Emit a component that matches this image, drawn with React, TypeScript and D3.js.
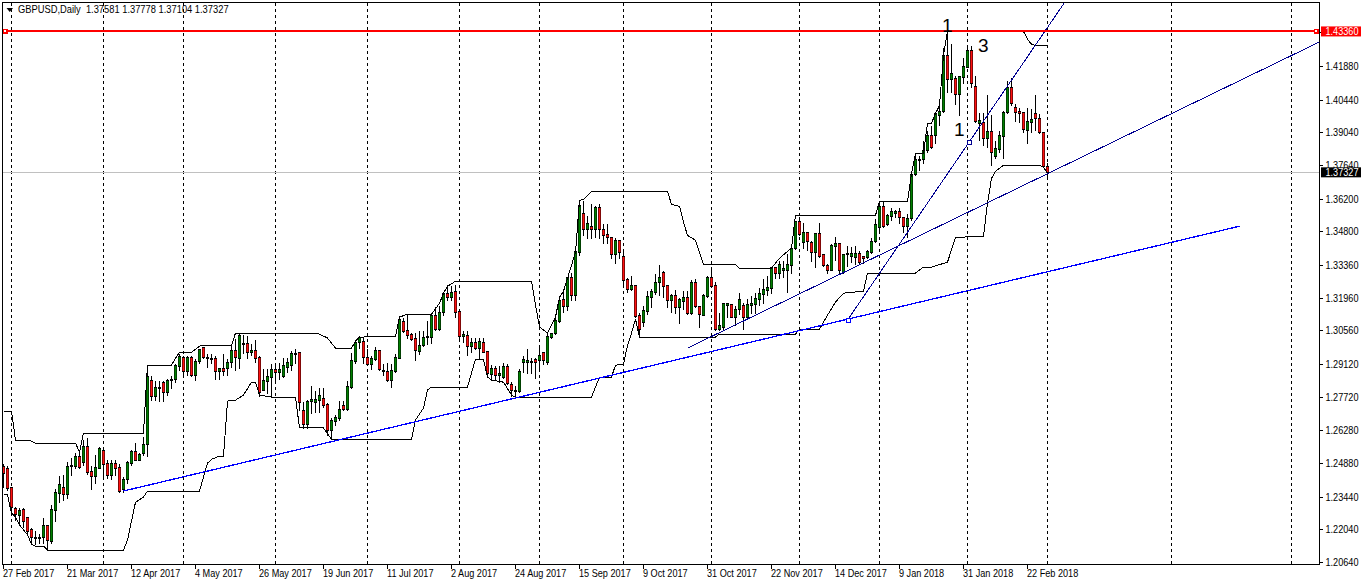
import React, { useEffect, useRef } from "react";
import * as d3 from "d3";

const opens = [
  1.2474,1.2466,1.2385,1.2295,1.2265,1.2290,1.2256,1.2205,1.2167,1.2167,
  1.2171,1.2223,1.2154,1.2286,1.2359,1.2385,1.2355,1.2474,1.2474,1.2517,
  1.2491,1.2560,1.2454,1.2432,1.2466,1.2543,1.2487,1.2437,1.2487,1.2470,
  1.2376,1.2419,1.2487,1.2539,1.2500,1.2530,1.2569,1.2843,1.2774,1.2809,
  1.2834,1.2791,1.2843,1.2847,1.2903,1.2941,1.2881,1.2941,1.2865,1.2924,
  1.2984,1.2937,1.2932,1.2937,1.2881,1.2894,1.2894,1.2919,1.2971,1.2937,
  1.2997,1.3001,1.2962,1.2971,1.2941,1.2800,1.2839,1.2856,1.2890,1.2877,
  1.2860,1.2898,1.2907,1.2954,1.2962,1.2714,1.2655,1.2753,1.2748,1.2757,
  1.2766,1.2740,1.2629,1.2668,1.2680,1.2736,1.2718,1.2813,1.2924,1.3005,
  1.3010,1.2941,1.2911,1.2932,1.2971,1.2881,1.2881,1.2843,1.2881,1.2937,
  1.3096,1.3057,1.3040,1.3023,1.2967,1.2992,1.3027,1.3027,1.3121,1.3061,
  1.3134,1.3215,1.3198,1.3224,1.3138,1.3031,1.3036,1.2988,1.3005,1.2980,
  1.3005,1.2967,1.2869,1.2894,1.2865,1.2856,1.2903,1.2826,1.2796,1.2796,
  1.2919,1.2919,1.2919,1.2932,1.2928,1.2962,1.2919,1.3027,1.3044,1.3096,
  1.3189,1.3160,1.3284,1.3206,1.3390,1.3557,1.3489,1.3502,1.3489,1.3583,
  1.3489,1.3468,1.3454,1.3382,1.3442,1.3373,1.3275,1.3232,1.3249,1.3121,
  1.3091,1.3138,1.3198,1.3219,1.3262,1.3305,1.3249,1.3185,1.3206,1.3155,
  1.3181,1.3198,1.3130,1.3262,1.3160,1.3121,1.3202,1.3284,1.3249,1.3061,
  1.3070,1.3164,1.3168,1.3113,1.3146,1.3164,1.3113,1.3164,1.3168,1.3189,
  1.3211,1.3228,1.3237,1.3327,1.3301,1.3314,1.3314,1.3335,1.3408,1.3524,
  1.3433,1.3476,1.3433,1.3390,1.3472,1.3382,1.3335,1.3314,1.3416,1.3429,
  1.3305,1.3382,1.3373,1.3369,1.3386,1.3373,1.3369,1.3390,1.3438,1.3498,
  1.3587,1.3511,1.3545,1.3557,1.3566,1.3540,1.3502,1.3536,1.3725,1.3784,
  1.3789,1.3827,1.3891,1.3891,1.3977,1.3994,1.4234,1.4131,1.4136,1.4067,
  1.4140,1.4183,1.4255,1.4101,1.3943,1.3947,1.3879,1.3909,1.3801,1.3831,
  1.3887,1.3989,1.4097,1.4011,1.3994,1.3989,1.3913,1.3947,1.3985,1.3964,
  1.3904,1.37581,
];
const highs = [
  1.2487,1.2479,1.2385,1.2303,1.2299,1.2299,1.2256,1.2214,1.2201,1.2188,
  1.2256,1.2227,1.2312,1.2381,1.2437,1.2441,1.2496,1.2513,1.2534,1.2530,
  1.2590,1.2599,1.2479,1.2526,1.2560,1.2552,1.2504,1.2504,1.2504,1.2487,
  1.2432,1.2500,1.2547,1.2577,1.2534,1.2603,1.2877,1.2865,1.2843,1.2843,
  1.2843,1.2851,1.2865,1.2915,1.2958,1.2950,1.2950,1.2950,1.2937,1.2980,
  1.2988,1.2958,1.2958,1.2950,1.2898,1.2958,1.2937,1.2992,1.3023,1.3044,
  1.3040,1.3036,1.3001,1.3018,1.2950,1.2894,1.2894,1.2915,1.2919,1.2919,
  1.2941,1.2941,1.2971,1.2980,1.2962,1.2753,1.2761,1.2822,1.2800,1.2813,
  1.2813,1.2748,1.2684,1.2697,1.2757,1.2757,1.2843,1.2962,1.3018,1.3036,
  1.3027,1.2980,1.2950,1.2988,1.2971,1.2915,1.2919,1.2915,1.2958,1.3113,
  1.3113,1.3125,1.3049,1.3049,1.3057,1.3057,1.3100,1.3125,1.3160,1.3164,
  1.3219,1.3254,1.3249,1.3254,1.3142,1.3057,1.3057,1.3027,1.3027,1.3027,
  1.3027,1.2971,1.2911,1.2907,1.2907,1.2919,1.2915,1.2839,1.2822,1.2894,
  1.2950,1.2980,1.2941,1.2941,1.2992,1.2967,1.3049,1.3049,1.3125,1.3206,
  1.3228,1.3288,1.3305,1.3399,1.3613,1.3613,1.3549,1.3600,1.3592,1.3600,
  1.3515,1.3515,1.3459,1.3454,1.3442,1.3408,1.3284,1.3292,1.3249,1.3134,
  1.3164,1.3228,1.3237,1.3301,1.3339,1.3314,1.3249,1.3215,1.3232,1.3198,
  1.3228,1.3228,1.3275,1.3279,1.3164,1.3215,1.3292,1.3331,1.3266,1.3134,
  1.3177,1.3177,1.3172,1.3164,1.3219,1.3177,1.3194,1.3206,1.3219,1.3241,
  1.3279,1.3292,1.3331,1.3331,1.3356,1.3356,1.3386,1.3412,1.3528,1.3545,
  1.3519,1.3481,1.3442,1.3476,1.3519,1.3382,1.3343,1.3429,1.3459,1.3429,
  1.3386,1.3421,1.3416,1.3421,1.3399,1.3378,1.3403,1.3454,1.3536,1.3613,
  1.3613,1.3557,1.3583,1.3574,1.3583,1.3540,1.3557,1.3729,1.3819,1.3806,
  1.3870,1.3913,1.3934,1.3989,1.4019,1.4268,1.4328,1.4285,1.4148,1.4148,
  1.4225,1.4276,1.4276,1.4148,1.3989,1.3989,1.4067,1.3981,1.3870,1.3913,
  1.3998,1.4127,1.4140,1.4028,1.4011,1.3989,1.4011,1.4007,1.4067,1.3985,
  1.3904,1.37778,
];
const lows = [
  1.2385,1.2372,1.2265,1.2244,1.2223,1.2214,1.2180,1.2141,1.2141,1.2145,
  1.2145,1.2115,1.2145,1.2240,1.2320,1.2329,1.2338,1.2437,1.2466,1.2466,
  1.2479,1.2441,1.2376,1.2402,1.2466,1.2432,1.2424,1.2419,1.2437,1.2363,
  1.2363,1.2402,1.2479,1.2500,1.2500,1.2522,1.2517,1.2757,1.2757,1.2753,
  1.2753,1.2779,1.2809,1.2834,1.2886,1.2865,1.2865,1.2860,1.2843,1.2915,
  1.2937,1.2898,1.2915,1.2847,1.2847,1.2865,1.2865,1.2898,1.2886,1.2894,
  1.2958,1.2937,1.2950,1.2919,1.2774,1.2800,1.2787,1.2770,1.2843,1.2847,
  1.2856,1.2877,1.2886,1.2915,1.2714,1.2638,1.2638,1.2701,1.2705,1.2705,
  1.2727,1.2608,1.2590,1.2650,1.2672,1.2714,1.2714,1.2809,1.2915,1.2980,
  1.2915,1.2907,1.2890,1.2928,1.2886,1.2865,1.2839,1.2813,1.2877,1.2937,
  1.3049,1.3023,1.3014,1.2928,1.2954,1.2988,1.2997,1.3001,1.3057,1.3057,
  1.3121,1.3185,1.3185,1.3113,1.3023,1.3005,1.2950,1.2962,1.2975,1.2937,
  1.2962,1.2856,1.2843,1.2843,1.2834,1.2851,1.2826,1.2774,1.2774,1.2791,
  1.2877,1.2873,1.2873,1.2851,1.2886,1.2911,1.2911,1.3023,1.3040,1.3091,
  1.3134,1.3142,1.3185,1.3185,1.3378,1.3463,1.3450,1.3450,1.3454,1.3450,
  1.3429,1.3429,1.3365,1.3343,1.3365,1.3241,1.3219,1.3228,1.3113,1.3027,
  1.3074,1.3125,1.3155,1.3211,1.3206,1.3198,1.3155,1.3134,1.3130,1.3087,
  1.3146,1.3125,1.3125,1.3155,1.3070,1.3121,1.3198,1.3241,1.3057,1.3057,
  1.3057,1.3113,1.3113,1.3078,1.3125,1.3061,1.3113,1.3130,1.3130,1.3164,
  1.3172,1.3206,1.3215,1.3279,1.3279,1.3284,1.3219,1.3301,1.3403,1.3463,
  1.3408,1.3399,1.3352,1.3327,1.3369,1.3331,1.3301,1.3314,1.3356,1.3297,
  1.3301,1.3331,1.3348,1.3339,1.3339,1.3343,1.3365,1.3386,1.3433,1.3485,
  1.3498,1.3506,1.3528,1.3540,1.3515,1.3476,1.3454,1.3528,1.3720,1.3742,
  1.3771,1.3819,1.3836,1.3857,1.3934,1.3989,1.4075,1.4075,1.4024,1.3977,
  1.4114,1.4183,1.4097,1.3947,1.3870,1.3849,1.3840,1.3763,1.3793,1.3819,
  1.3793,1.3985,1.4019,1.3951,1.3947,1.3904,1.3857,1.3904,1.3913,1.3900,
  1.3754,1.37104,
];
const closes = [
  1.2445,1.2381,1.2299,1.2269,1.2286,1.2240,1.2197,1.2171,1.2171,1.2171,
  1.2223,1.2158,1.2290,1.2363,1.2398,1.2355,1.2474,1.2479,1.2517,1.2470,
  1.2560,1.2449,1.2432,1.2470,1.2552,1.2483,1.2437,1.2487,1.2466,1.2368,
  1.2419,1.2491,1.2539,1.2500,1.2526,1.2569,1.2860,1.2774,1.2813,1.2813,
  1.2791,1.2843,1.2847,1.2907,1.2945,1.2881,1.2941,1.2865,1.2924,1.2975,
  1.2941,1.2941,1.2937,1.2881,1.2894,1.2881,1.2919,1.2971,1.2941,1.3036,
  1.3001,1.2962,1.2971,1.2937,1.2791,1.2843,1.2860,1.2890,1.2877,1.2890,
  1.2907,1.2919,1.2958,1.2958,1.2748,1.2655,1.2753,1.2761,1.2761,1.2779,
  1.2736,1.2629,1.2672,1.2684,1.2718,1.2718,1.2817,1.2928,1.3005,1.3027,
  1.2941,1.2911,1.2937,1.2971,1.2890,1.2886,1.2843,1.2886,1.2941,1.3104,
  1.3053,1.3036,1.3018,1.2971,1.2992,1.3027,1.3031,1.3121,1.3061,1.3134,
  1.3215,1.3198,1.3219,1.3134,1.3031,1.3040,1.2988,1.3005,1.2980,1.3010,
  1.2962,1.2873,1.2894,1.2865,1.2873,1.2903,1.2830,1.2800,1.2800,1.2881,
  1.2932,1.2928,1.2924,1.2919,1.2950,1.2928,1.3031,1.3044,1.3100,1.3185,
  1.3160,1.3284,1.3206,1.3395,1.3592,1.3489,1.3515,1.3489,1.3583,1.3489,
  1.3463,1.3454,1.3382,1.3442,1.3390,1.3271,1.3232,1.3249,1.3117,1.3061,
  1.3142,1.3202,1.3224,1.3262,1.3284,1.3245,1.3185,1.3206,1.3155,1.3189,
  1.3198,1.3130,1.3262,1.3160,1.3125,1.3206,1.3284,1.3245,1.3061,1.3078,
  1.3172,1.3172,1.3113,1.3146,1.3189,1.3113,1.3168,1.3172,1.3194,1.3215,
  1.3232,1.3241,1.3327,1.3301,1.3339,1.3322,1.3339,1.3408,1.3524,1.3468,
  1.3476,1.3438,1.3390,1.3472,1.3373,1.3335,1.3314,1.3421,1.3429,1.3314,
  1.3382,1.3386,1.3386,1.3386,1.3348,1.3365,1.3395,1.3438,1.3511,1.3587,
  1.3502,1.3549,1.3566,1.3566,1.3540,1.3502,1.3536,1.3725,1.3789,1.3789,
  1.3827,1.3891,1.3840,1.3985,1.3994,1.4234,1.4131,1.4157,1.4067,1.4144,
  1.4187,1.4255,1.4114,1.3951,1.3956,1.3879,1.3909,1.3819,1.3836,1.3891,
  1.3989,1.4097,1.4028,1.3989,1.3985,1.3917,1.3951,1.3960,1.3964,1.3904,
  1.3759,1.37327,
];

// upper and lower channel lines, as bar number + price
const upperBars = [0,2,3,7,8,18,19,20,35,36,42,43,44,47,49,50,57,58,77,79,81,83,87,88,89,98,99,101,107,109,110,111,113,132,133,134,136,138,139,140,141,143,144,145,147,166,167,169,170,171,173,175,183,184,192,194,197,198,218,219,226,227,228,230,231,232,233,234,235,236,255,256,257,258,261];
const upperPrices = [1.2710,1.2710,1.2586,1.2582,1.2573,1.2573,1.2534,1.2616,1.2616,1.2907,1.2907,1.2937,1.2962,1.2962,1.2988,1.2992,1.2992,1.3044,1.3044,1.3040,1.3023,1.2980,1.2980,1.3010,1.3027,1.3031,1.3113,1.3125,1.3125,1.3172,1.3215,1.3245,1.3266,1.3266,1.3164,1.3070,1.3044,1.3113,1.3198,1.3224,1.3279,1.3390,1.3613,1.3617,1.3651,1.3651,1.3596,1.3587,1.3519,1.3463,1.3442,1.3339,1.3339,1.3322,1.3322,1.3365,1.3408,1.3549,1.3549,1.3609,1.3609,1.3729,1.3814,1.3814,1.3943,1.3943,1.3985,1.4019,1.4234,1.4336,1.4336,1.4303,1.4281,1.4276,1.4276];
const lowerBars = [0,1,2,3,4,6,7,8,10,11,30,31,33,35,36,49,51,52,54,55,56,58,60,62,63,64,67,73,74,80,82,102,103,105,106,107,116,118,120,121,122,125,127,128,147,149,152,153,155,156,157,158,159,178,179,198,199,204,206,208,210,215,216,228,230,232,236,238,245,246,247,248,250,259,260,261];
const lowerPrices = [1.2351,1.2351,1.2273,1.2256,1.2223,1.2180,1.2141,1.2132,1.2132,1.2115,1.2115,1.2158,1.2320,1.2342,1.2368,1.2368,1.2487,1.2504,1.2517,1.2517,1.2753,1.2757,1.2779,1.2834,1.2834,1.2779,1.2770,1.2770,1.2638,1.2638,1.2590,1.2590,1.2672,1.2723,1.2800,1.2813,1.2813,1.2932,1.2932,1.2856,1.2843,1.2834,1.2779,1.2770,1.2770,1.2856,1.2856,1.2907,1.2911,1.2992,1.3044,1.3104,1.3027,1.3027,1.3040,1.3040,1.3061,1.3061,1.3121,1.3177,1.3215,1.3224,1.3301,1.3301,1.3327,1.3327,1.3348,1.3454,1.3459,1.3600,1.3707,1.3737,1.3763,1.3763,1.3754,1.3729];

const trendBars = [[30, 309], [211, 266.5], [171, 329]];
const trendPrices = [[1.2368, 1.3502], [1.3100, 1.4491], [1.2980, 1.4291]];
const trendColors = ["#0000ff", "#000090", "#000090"];
const trendWidths = [1.3, 1, 1];
const anchorBars = [211, 241.4];
const anchorPrices = [1.3100, 1.3864];

const separatorBars = [2, 25, 45, 68, 91, 114, 134, 155, 177, 199, 219, 241, 261, 292, 322];
const priceTicks = [1.2064,1.2204,1.2344,1.2488,1.2628,1.2772,1.2912,1.3056,1.3196,1.3336,1.348,1.362,1.3764,1.3904,1.4044,1.4188,1.4332];
const dateTicks = [
  "27 Feb 2017","21 Mar 2017","12 Apr 2017","4 May 2017","26 May 2017","19 Jun 2017",
  "11 Jul 2017","2 Aug 2017","24 Aug 2017","15 Sep 2017","9 Oct 2017","31 Oct 2017",
  "22 Nov 2017","14 Dec 2017","9 Jan 2018","31 Jan 2018","22 Feb 2018",
];
const barsPerDateTick = 16;
const resistance = 1.4336;
const lastPrice = 1.37327;
const headerText = "GBPUSD,Daily  1.37581 1.37778 1.37104 1.37327";
const waveLabels = ["1", "3", "1"];
const waveBars = [234.6, 243.6, 237.6];
const wavePrices = [1.4333, 1.4248, 1.3888];

const FONT = "'Liberation Sans', Arial, sans-serif";
const SQUEEZE = "scale(0.87,1)";

export default function App() {
  const svgRef = useRef<SVGSVGElement | null>(null);

  useEffect(() => {
    if (!svgRef.current) return;
    const svg = d3.select(svgRef.current);
    svg.selectAll("*").remove();

    const left = 2.5, right = 1319.5, top = 2.5, bottom = 564.5;
    const x = d3.scaleLinear().domain([0, 329]).range([3.5, 1319.5]);
    const y = d3.scaleLinear().domain([1.2064, 1.4188]).range([562, 66]);
    const py = (p: number) => Math.round(y(p)) + 0.5;

    svg.append("defs").append("clipPath").attr("id", "plot")
      .append("rect").attr("x", left).attr("y", top)
      .attr("width", right - left).attr("height", bottom - top);

    // period separators
    svg.append("g").selectAll("line").data(separatorBars).enter().append("line")
      .attr("x1", (d) => x(d)).attr("x2", (d) => x(d))
      .attr("y1", top).attr("y2", bottom)
      .attr("stroke", "#000").attr("stroke-dasharray", "3,3")
      .attr("shape-rendering", "crispEdges");

    // last price line
    svg.append("line")
      .attr("x1", left).attr("x2", right)
      .attr("y1", py(lastPrice)).attr("y2", py(lastPrice))
      .attr("stroke", "#c0c0c0").attr("shape-rendering", "crispEdges");

    // candles: black body 3px wide, colour bleeding over the middle
    const candles = svg.append("g");
    opens.forEach((o, i) => {
      const c = closes[i];
      candles.append("line")
        .attr("x1", x(i)).attr("x2", x(i))
        .attr("y1", py(highs[i])).attr("y2", py(lows[i]))
        .attr("stroke", "#000").attr("shape-rendering", "crispEdges");
      const yTop = py(Math.max(o, c));
      const yBottom = py(Math.min(o, c));
      candles.append("rect")
        .attr("x", x(i) - 1.5).attr("width", 3)
        .attr("y", yTop - 0.5).attr("height", Math.max(yBottom - yTop, 0) + 1)
        .attr("fill", "#000").attr("shape-rendering", "crispEdges");
      if (yBottom - yTop > 1) {
        candles.append("rect")
          .attr("x", x(i) - 1).attr("width", 2)
          .attr("y", yTop + 0.5).attr("height", yBottom - yTop - 1)
          .attr("fill", c >= o ? "#008000" : "#ff1010");
      }
    });

    // channel lines
    const channel = d3.line<number>().x((d) => x(d[0])).y((d) => y(d[1]));
    [[upperBars, upperPrices], [lowerBars, lowerPrices]].forEach(([bars, prices]) => {
      svg.append("path")
        .datum(bars.map((b, i) => [b, prices[i]]) as any)
        .attr("fill", "none").attr("stroke", "#000").attr("stroke-width", 1)
        .attr("shape-rendering", "crispEdges")
        .attr("d", channel as any);
    });

    // trend lines
    const trends = svg.append("g").attr("clip-path", "url(#plot)");
    trendBars.forEach((bars, i) => {
      trends.append("line")
        .attr("x1", x(bars[0])).attr("y1", y(trendPrices[i][0]))
        .attr("x2", x(bars[1])).attr("y2", y(trendPrices[i][1]))
        .attr("stroke", trendColors[i]).attr("stroke-width", trendWidths[i])
        .attr("shape-rendering", "crispEdges");
    });
    anchorBars.forEach((b, i) => {
      svg.append("rect")
        .attr("x", Math.round(x(b)) - 1.5).attr("y", Math.round(y(anchorPrices[i])) - 1.5)
        .attr("width", 4).attr("height", 4)
        .attr("fill", "#fff").attr("stroke", i ? "#000090" : "#0000ff")
        .attr("shape-rendering", "crispEdges");
    });

    // resistance line and its handles
    const ry = Math.round(y(resistance));
    svg.append("line")
      .attr("x1", left).attr("x2", right).attr("y1", ry).attr("y2", ry)
      .attr("stroke", "#ff0000").attr("stroke-width", 2)
      .attr("shape-rendering", "crispEdges");
    [5, 1316].forEach((hx) => {
      svg.append("rect")
        .attr("x", hx - 2.5).attr("y", ry - 2.5).attr("width", 5).attr("height", 5)
        .attr("fill", "#ff0000")
        .attr("shape-rendering", "crispEdges");
      svg.append("rect")
        .attr("x", hx - 1).attr("y", ry - 1).attr("width", 2).attr("height", 2)
        .attr("fill", "#fff")
        .attr("shape-rendering", "crispEdges");
    });

    // frame
    svg.append("rect")
      .attr("x", left).attr("y", top)
      .attr("width", right - left).attr("height", bottom - top)
      .attr("fill", "none").attr("stroke", "#000")
      .attr("shape-rendering", "crispEdges");

    // axes
    const rightAxis = d3.axisRight(y)
      .tickValues(priceTicks).tickSize(3).tickPadding(0).offset(0)
      .tickFormat((d) => d3.format(".5f")(d as number));
    const ra = svg.append("g").attr("transform", `translate(${right},0)`).call(rightAxis);
    ra.select(".domain").remove();
    ra.selectAll("line").attr("shape-rendering", "crispEdges").attr("y1", 0.5).attr("y2", 0.5);
    ra.selectAll("text")
      .attr("x", null).attr("dy", null)
      .attr("font-family", FONT).attr("font-size", 10.5).attr("fill", "#000")
      .attr("text-anchor", "start")
      .attr("transform", `translate(6,4) ${SQUEEZE}`);

    const bottomAxis = d3.axisBottom(x)
      .tickValues(dateTicks.map((_, i) => i * barsPerDateTick))
      .tickSize(4).tickPadding(0).offset(0)
      .tickFormat((_, i) => dateTicks[i]);
    const ba = svg.append("g").attr("transform", `translate(0,${bottom})`).call(bottomAxis);
    ba.select(".domain").remove();
    ba.selectAll("line").attr("shape-rendering", "crispEdges");
    ba.selectAll("text")
      .attr("y", null).attr("dy", null)
      .attr("font-family", FONT).attr("font-size", 10.5).attr("fill", "#000")
      .attr("text-anchor", "start")
      .attr("transform", `translate(-0.5,12.5) ${SQUEEZE}`);

    // price tags
    [
      { p: resistance, fill: "#ff0000" },
      { p: lastPrice, fill: "#000" },
    ].forEach(({ p, fill }) => {
      svg.append("rect")
        .attr("x", 1321).attr("y", y(p) - 5).attr("width", 40).attr("height", 10)
        .attr("fill", fill);
      svg.append("text")
        .attr("transform", `translate(1325.5,${y(p) + 4}) ${SQUEEZE}`)
        .attr("font-family", FONT).attr("font-size", 10.5).attr("fill", "#fff")
        .text(d3.format(".5f")(p));
    });

    // header
    svg.append("path")
      .attr("d", d3.line()([[6.5, 8], [13, 8], [9.75, 12]]) + "Z")
      .attr("fill", "#000");
    svg.append("text")
      .attr("transform", "translate(18,13) scale(0.89,1)")
      .attr("font-family", FONT).attr("font-size", 10.5).attr("fill", "#000")
      .style("white-space", "pre")
      .text(headerText);

    // wave labels
    waveLabels.forEach((t, i) => {
      svg.append("text")
        .attr("x", x(waveBars[i])).attr("y", y(wavePrices[i]))
        .attr("font-family", FONT).attr("font-size", 19).attr("fill", "#000")
        .text(t);
    });
  }, []);

  return (
    <svg
      ref={svgRef}
      width={1362}
      height={585}
      style={{ position: "absolute", left: 0, top: 0, display: "block", background: "#fff" }}
    />
  );
}
